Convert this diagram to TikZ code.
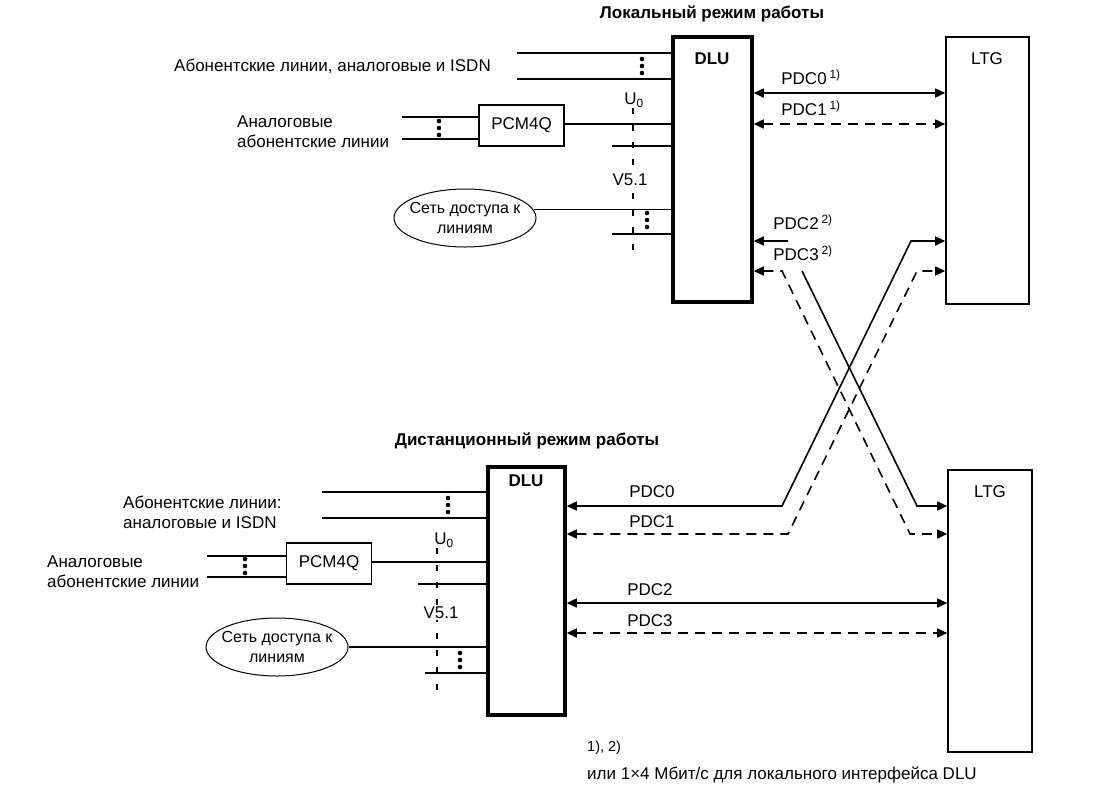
\documentclass[tikz,border=0pt]{standalone}
\usepackage{fontspec}
\setmainfont{Liberation Sans}
\usetikzlibrary{arrows.meta,shapes.geometric}
\newcommand{\lblfont}{\fontsize{17}{20}\selectfont}
\newcommand{\dotcol}[2]{\foreach \d in {-7,0,7} \fill (#1,#2+\d) circle (2.3pt);}
\tikzset{
  >={Triangle[length=10pt,width=9pt]},
  wire/.style={line width=1.6pt},
  dashpat/.style={dash pattern=on 10pt off 7pt},
  ifc/.style={line width=1.6pt, dash pattern=on 6pt off 11pt},
  unit/.style={draw, line width=3.5pt, inner sep=0pt},
  ltg/.style={draw, line width=1.6pt, inner sep=0pt},
  pcm/.style={draw, line width=1.6pt, minimum width=85pt, minimum height=41pt,
    inner sep=0pt, font=\lblfont},
  net/.style={ellipse, draw, line width=1pt, minimum width=142pt,
    minimum height=58pt, inner xsep=-12pt, inner ysep=0pt, align=center,
    font=\fontsize{16}{20}\selectfont},
  lbl/.style={font=\lblfont, inner sep=1pt},
  ttl/.style={font=\lblfont\bfseries, inner sep=1pt}
}

\begin{document}
\begin{tikzpicture}[x=1pt,y=-1pt]
\useasboundingbox (0,0) rectangle (1106,807);

% local mode
\node[ttl] (ttlL) at (712,14) {Локальный режим работы};
\node[unit, minimum width=79pt, minimum height=265pt] (dluL) at (712.5,169.5) {};
\node[ltg, minimum width=83pt, minimum height=267pt] (ltgL) at (987.5,170.5) {};
\node[ttl] (dluLt) at (712,59) {DLU};
\node[lbl] (ltgLt) at (987,59) {LTG};

\node[lbl, anchor=east] (subL) at (492,66) {Абонентские линии, аналоговые и ISDN};
\coordinate (s1) at (517,53);
\coordinate (s2) at (517,79);
\draw[wire] (s1) -- (dluL.west |- s1);
\draw[wire] (s2) -- (dluL.west |- s2);
\dotcol{642}{66}

\node[pcm] (pcmL) at (521.5,125.5) {PCM4Q};
\node[lbl, anchor=west, align=left] (anaL) at (236,132) {Аналоговые\\абонентские линии};
\coordinate (p1) at (402,117);
\coordinate (p2) at (402,139);
\draw[wire] (p1) -- (pcmL.west |- p1);
\draw[wire] (p2) -- (pcmL.west |- p2);
\dotcol{439}{128}
\draw[wire] (pcmL.east |- 0,124) -- (dluL.west |- 0,124);
\coordinate (u1) at (612,146);
\draw[wire] (u1) -- (dluL.west |- u1);

\node[net] (netL) at (465,218) {Сеть доступа к\\линиям};
\draw[wire] (netL.7) -- (dluL.west |- netL.7);
\coordinate (n1) at (612,234);
\draw[wire] (n1) -- (dluL.west |- n1);
\dotcol{647}{220}

\draw[ifc] (633,108) -- (633,255);
\node[lbl] (u0L) at (634,100) {U\textsubscript{0}};
\node[lbl, fill=white] (v5L) at (630,180) {V5.1};

\draw[wire,<->] (dluL.east |- 0,93) -- (ltgL.west |- 0,93);
\node[lbl] (pdc0L) at (811,77) {PDC0\,\textsuperscript{1)}};
\draw[wire,dashpat,<->] (dluL.east |- 0,124) -- (ltgL.west |- 0,124);
\node[lbl] (pdc1L) at (811,108) {PDC1\,\textsuperscript{1)}};
\node[lbl] (pdc2L) at (803,222) {PDC2\,\textsuperscript{2)}};
\node[lbl] (pdc3L) at (803,253) {PDC3\,\textsuperscript{2)}};

% remote mode
\node[ttl] (ttlR) at (527,441) {Дистанционный режим работы};
\node[unit, minimum width=77pt, minimum height=248pt] (dluR) at (526.5,591) {};
\node[ltg, minimum width=84pt, minimum height=282pt] (ltgR) at (990,611) {};
\node[ttl] (dluRt) at (526,481) {DLU};
\node[lbl] (ltgRt) at (990,492) {LTG};

\node[lbl, anchor=west, align=left] (subR) at (122,512) {Абонентские линии:\\аналоговые и ISDN};
\coordinate (s3) at (322,492);
\coordinate (s4) at (322,518);
\draw[wire] (s3) -- (dluR.west |- s3);
\draw[wire] (s4) -- (dluR.west |- s4);
\dotcol{448}{505}

\node[pcm] (pcmR) at (329,563.5) {PCM4Q};
\node[lbl, anchor=west, align=left] (anaR) at (46,572) {Аналоговые\\абонентские линии};
\coordinate (p3) at (207,556);
\coordinate (p4) at (207,577);
\draw[wire] (p3) -- (pcmR.west |- p3);
\draw[wire] (p4) -- (pcmR.west |- p4);
\dotcol{245}{566}
\draw[wire] (pcmR.east |- 0,562) -- (dluR.west |- 0,562);
\coordinate (u2) at (418,584);
\draw[wire] (u2) -- (dluR.west |- u2);

\node[net] (netR) at (277,647) {Сеть доступа к\\линиям};
\draw[wire] (netR.east) -- (dluR.west |- netR.east);
\coordinate (n2) at (425,673);
\draw[wire] (n2) -- (dluR.west |- n2);
\dotcol{460}{660}

\draw[ifc] (437,548) -- (437,692);
\node[lbl] (u0R) at (444,540) {U\textsubscript{0}};
\node[lbl, fill=white] (v5R) at (441,613) {V5.1};

\node[lbl] (pdc0R) at (652,492) {PDC0};
\node[lbl] (pdc1R) at (652,522) {PDC1};
\draw[wire,<->] (dluR.east |- 0,603) -- (ltgR.west |- 0,603);
\node[lbl] (pdc2R) at (650,590) {PDC2};
\draw[wire,dashpat,<->] (dluR.east |- 0,633) -- (ltgR.west |- 0,633);
\node[lbl] (pdc3R) at (650,621) {PDC3};

% crossing links
\coordinate (a1) at (788,241);
\coordinate (a2) at (802,271);
\coordinate (a3) at (917,506);
\draw[wire,<-] (dluL.east |- a1) -- (a1);
\draw[wire,->] (a2) -- (a3) -- (ltgR.west |- a3);
\coordinate (b1) at (782,271);
\coordinate (b2) at (910,534);
\draw[wire,dashpat,<->] (dluL.east |- b1) -- (b1) -- (b2) -- (ltgR.west |- b2);
\coordinate (c1) at (782,506);
\coordinate (c2) at (911,241);
\draw[wire,<->] (dluR.east |- c1) -- (c1) -- (c2) -- (ltgL.west |- c2);
\coordinate (d1) at (788,534);
\coordinate (d2) at (917,271);
\draw[wire,dashpat,<->] (dluR.east |- d1) -- (d1) -- (d2) -- (ltgL.west |- d2);

% footnote
\node[lbl, anchor=west, font=\fontsize{14.5}{16}\selectfont] (fn1) at (586,748) {1), 2)};
\node[lbl, anchor=west] (fn2) at (586,775) {или 1×4 Мбит/с для локального интерфейса DLU};
\end{tikzpicture}
\end{document}
